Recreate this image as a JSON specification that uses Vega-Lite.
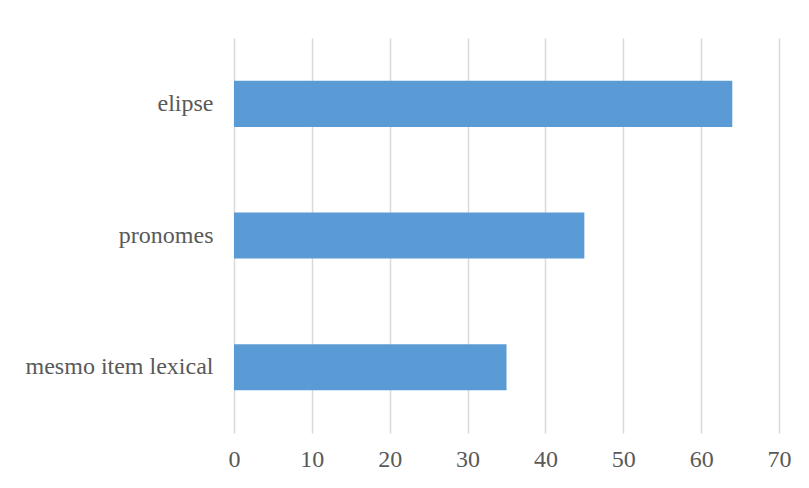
{
  "$schema": "https://vega.github.io/schema/vega-lite/v6.json",
  "autosize": "none",
  "padding": {"left": 234, "top": 38, "right": 30, "bottom": 55},
  "width": 545,
  "height": 395,
  "background": "white",
  "data": {"values": [
    {"categoria": "elipse", "valor": 64},
    {"categoria": "pronomes", "valor": 45},
    {"categoria": "mesmo item lexical", "valor": 35}
  ]},
  "mark": {"type": "bar", "color": "#5B9BD5"},
  "encoding": {
    "y": {
      "field": "categoria", "type": "nominal", "sort": null, "title": null,
      "scale": {"paddingInner": 0.65, "paddingOuter": 0.325},
      "axis": {"domain": false, "ticks": false, "grid": false, "labelPadding": 21, "labelFont": "Liberation Serif", "labelFontSize": 24, "labelColor": "#595959", "labelLimit": 400}
    },
    "x": {
      "field": "valor", "type": "quantitative", "title": null,
      "scale": {"domain": [0, 70], "nice": false},
      "axis": {"values": [0, 10, 20, 30, 40, 50, 60, 70], "domain": false, "ticks": false, "grid": true, "gridColor": "#D9D9D9", "gridWidth": 1.5, "labelPadding": 14, "labelFont": "Liberation Serif", "labelFontSize": 24, "labelColor": "#595959", "labelFlush": false}
    }
  },
  "config": {"view": {"stroke": null}}
}
